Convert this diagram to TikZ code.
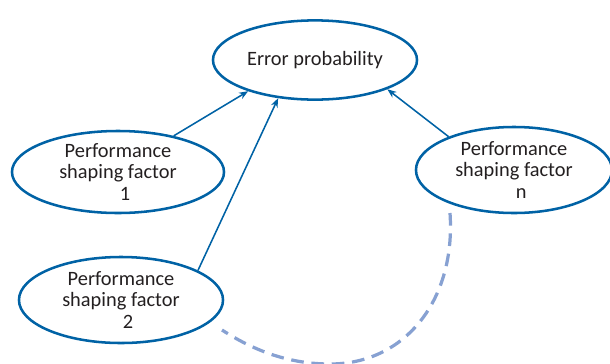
\documentclass[tikz,border=0pt]{standalone}
\usepackage{fontspec}
\setmainfont{Carlito}
\usepackage{xcolor}
\usepackage{tikz}
\usetikzlibrary{shapes.geometric,arrows.meta}

\definecolor{psfblue}{RGB}{0,98,165}
\definecolor{loopblue}{RGB}{135,161,210}
\definecolor{psftext}{RGB}{35,31,32}

\begin{document}
\begin{tikzpicture}[
    x=0.025cm, y=-0.025cm,
    bubble/.style={ellipse, draw=psfblue, line width=1.8pt, inner sep=0pt, align=center, text=psftext, font=\fontsize{14.5}{15.6}\selectfont},
    link/.style={-{Stealth[length=6.5pt,width=5pt]}, draw=psfblue, line width=1.1pt},
    loop/.style={draw=loopblue, line width=2.3pt, dash pattern=on 9pt off 5.5pt},
]
\useasboundingbox (0,0) rectangle (610,363);

\node[bubble, minimum width=5.1cm, minimum height=1.98cm] (err)  at (315,60)  {Error probability};
\node[bubble, minimum width=5.3cm, minimum height=2.05cm] (psf1) at (118,172) {Performance\\shaping factor\\\hspace*{0.7em}1};
\node[bubble, minimum width=5.1cm, minimum height=2.15cm] (psf2) at (121,300) {Performance\\shaping factor\\\hspace*{0.7em}2};
\node[bubble, minimum width=4.9cm, minimum height=2.15cm] (psfn) at (514,170) {Performance\\shaping factor\\\hspace*{0.7em}n};

\draw[link] (psf1.33) -- (err.205);
\draw[link] (psf2.21) -- (err.226);
\draw[link] (psfn.153) -- (err.338);

% dashed loop under the factors
\coordinate (loopA) at (450,213);
\coordinate (loopB) at (222,330);
\draw[loop] (loopA) .. controls (456,300) and (405,364) .. (330,364)
            .. controls (285,364) and (250,348) .. (loopB);
\end{tikzpicture}
\end{document}
